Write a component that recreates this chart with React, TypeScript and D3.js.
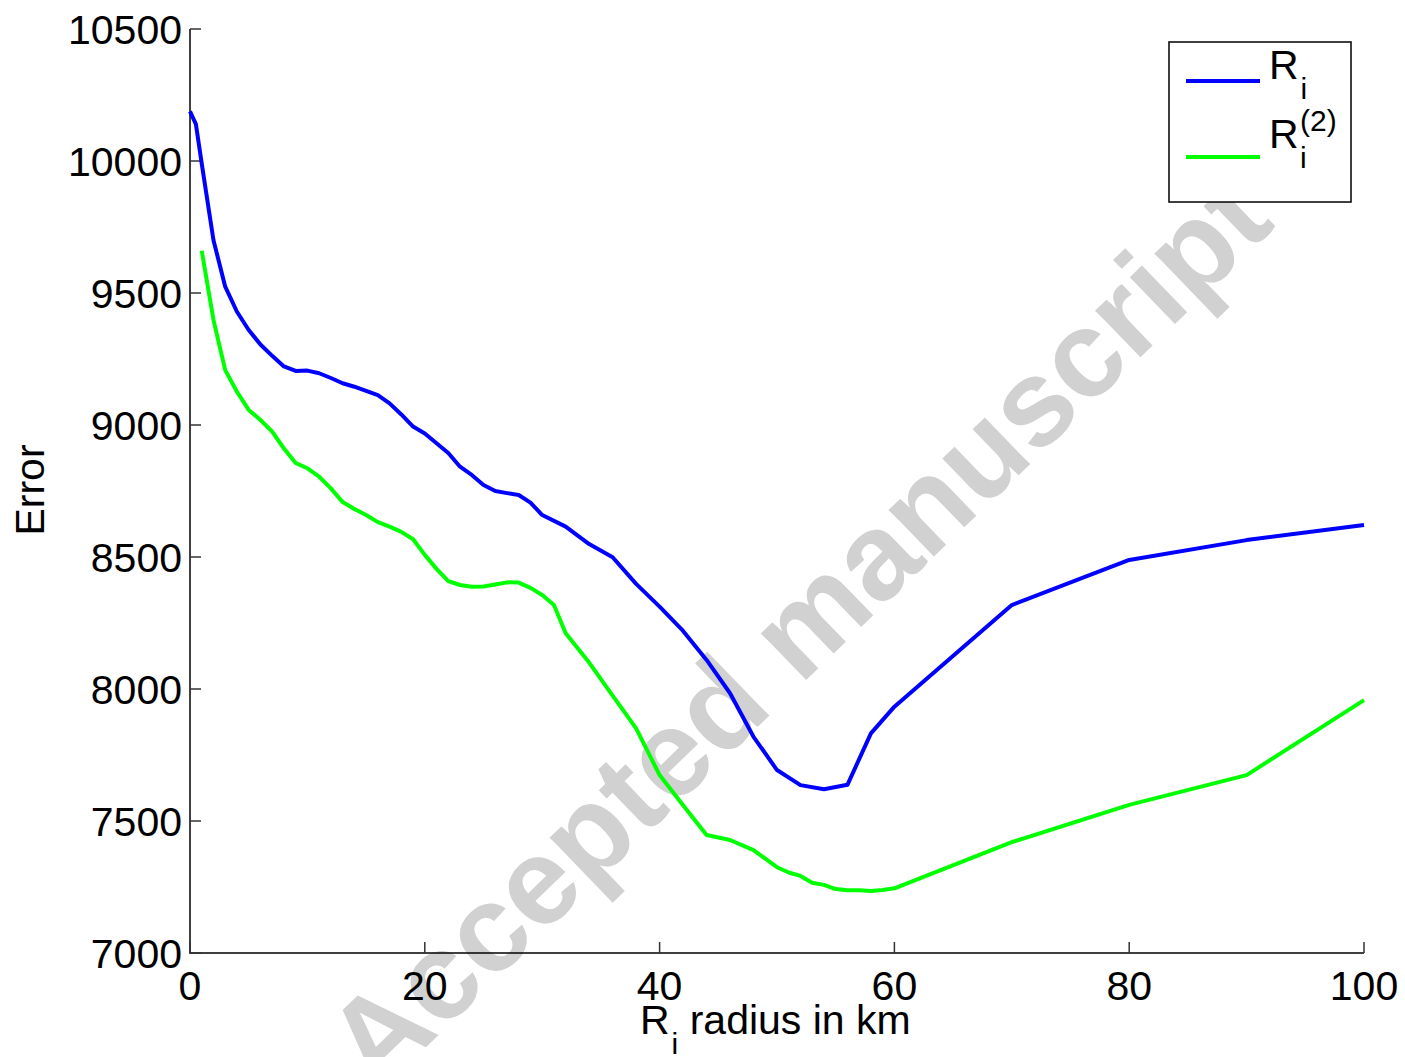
import React from "react";
import * as d3 from "d3";

const blueX = [0, 0.5, 1, 2, 3, 4, 5, 6, 7, 8, 9, 10, 11, 12, 13, 14, 15, 16, 17, 18, 19, 20, 21, 22, 23, 24, 25, 26, 27, 28, 29, 30, 32, 34, 36, 38, 40, 42, 44, 46, 48, 50, 52, 54, 56, 58, 60, 70, 80, 90, 100];
const blueY = [10188, 10140, 9990, 9700, 9524, 9429, 9360, 9305, 9262, 9222, 9205, 9206, 9196, 9178, 9158, 9145, 9129, 9113, 9082, 9040, 8994, 8968, 8931, 8894, 8842, 8811, 8773, 8750, 8742, 8735, 8706, 8659, 8615, 8549, 8499, 8398, 8312, 8220, 8110, 7984, 7819, 7693, 7636, 7620, 7637, 7832, 7933, 8318, 8489, 8564, 8621];

const greenX = [1, 2, 3, 4, 5, 6, 7, 8, 9, 10, 11, 12, 13, 14, 15, 16, 17, 18, 19, 20, 21, 22, 23, 24, 25, 26, 27, 28, 29, 30, 31, 32, 34, 36, 38, 40, 42, 44, 46, 48, 50, 51, 52, 53, 54, 55, 56, 57, 58, 59, 60, 70, 80, 90, 100];
const greenY = [9660, 9398, 9208, 9126, 9057, 9019, 8975, 8911, 8856, 8836, 8804, 8760, 8708, 8682, 8659, 8632, 8615, 8595, 8567, 8508, 8455, 8409, 8394, 8387, 8388, 8396, 8404, 8403, 8383, 8356, 8318, 8211, 8100, 7975, 7851, 7674, 7560, 7447, 7428, 7390, 7325, 7305, 7292, 7266, 7258, 7242, 7238, 7238, 7235, 7239, 7245, 7420, 7561, 7674, 7958];

const xTicks = [0, 20, 40, 60, 80, 100];
const yTicks = [7000, 7500, 8000, 8500, 9000, 9500, 10000, 10500];

const FONT = "'Liberation Sans', Arial, Helvetica, sans-serif";

export default function App() {
  const x = d3.scaleLinear().domain([0, 100]).range([190, 1364]);
  const y = d3.scaleLinear().domain([7000, 10500]).range([953, 29]);
  const line = d3
    .line<[number, number]>()
    .x((d) => x(d[0]))
    .y((d) => y(d[1]));
  const blue = blueX.map((v, i) => [v, blueY[i]] as [number, number]);
  const green = greenX.map((v, i) => [v, greenY[i]] as [number, number]);

  return (
    <svg
      width={1405}
      height={1057}
      style={{ position: "absolute", left: 0, top: 0, background: "#fff" }}
      fontFamily={FONT}
    >
      <rect x={0} y={0} width={1405} height={1057} fill="#fff" />
      {/* watermark */}
      <text
        transform="translate(827,660) rotate(-44)"
        textAnchor="middle"
        fontSize={123}
        fontWeight="bold"
        fill="#d1d1d1"
      >
        Accepted manuscript
      </text>

      {/* axes */}
      <line x1={190} y1={29} x2={190} y2={953.5} stroke="#000" strokeWidth={1.5} />
      <line x1={189.5} y1={953} x2={1364} y2={953} stroke="#000" strokeWidth={1.5} />
      {yTicks.map((t) => (
        <g key={"y" + t}>
          <line x1={190} x2={201} y1={y(t)} y2={y(t)} stroke="#333" strokeWidth={1.5} />
          <text x={182} y={y(t) + 15} textAnchor="end" fontSize={41} fill="#000">
            {t}
          </text>
        </g>
      ))}
      {xTicks.map((t) => (
        <g key={"x" + t}>
          <line x1={x(t)} x2={x(t)} y1={953} y2={942} stroke="#333" strokeWidth={1.5} />
          <text x={x(t)} y={1000} textAnchor="middle" fontSize={41} fill="#000">
            {t}
          </text>
        </g>
      ))}

      {/* axis labels */}
      <text x={640} y={1034} fontSize={41} fill="#000">
        R<tspan dx={2} dy={20} fontSize={30}>i</tspan>
        <tspan dy={-20} fontSize={41}> radius in km</tspan>
      </text>
      <text transform="translate(44,490) rotate(-90)" textAnchor="middle" fontSize={41} fill="#000">
        Error
      </text>

      {/* data lines */}
      <path d={line(blue) || ""} fill="none" stroke="#0000ff" strokeWidth={4} strokeLinejoin="round" />
      <path d={line(green) || ""} fill="none" stroke="#00ff00" strokeWidth={4} strokeLinejoin="round" />

      {/* legend */}
      <rect x={1169} y={42} width={182} height={160} fill="#fff" stroke="#000" strokeWidth={1.5} />
      <line x1={1186} x2={1260} y1={81} y2={81} stroke="#0000ff" strokeWidth={4} />
      <line x1={1186} x2={1260} y1={157} y2={157} stroke="#00ff00" strokeWidth={4} />
      <text x={1269} y={79} fontSize={41} fill="#000">
        R<tspan dx={2} dy={20} fontSize={30}>i</tspan>
      </text>
      <text x={1269} y={148} fontSize={41} fill="#000">R</text>
      <text x={1300} y={131} fontSize={30} fill="#000">(2)</text>
      <text x={1300} y={168} fontSize={30} fill="#000">i</text>
    </svg>
  );
}
